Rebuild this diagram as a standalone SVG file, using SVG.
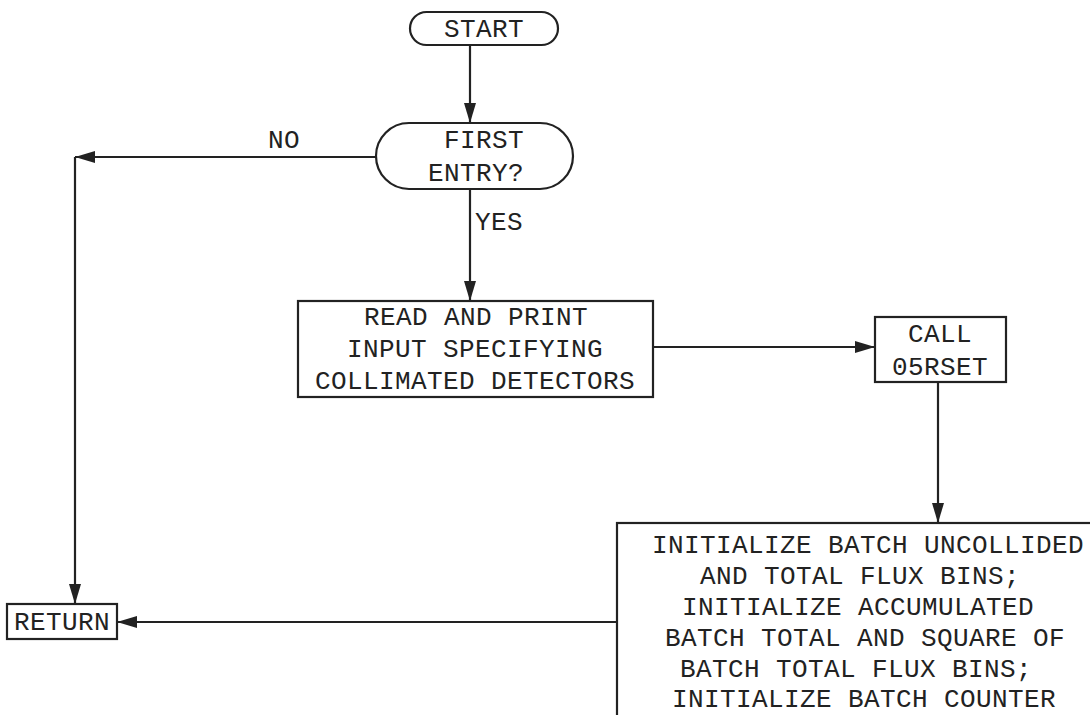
<svg xmlns="http://www.w3.org/2000/svg" width="1090" height="715" viewBox="0 0 1090 715">
<style>
.box{fill:#fff;stroke:#222;stroke-width:2.2}
.ln{fill:none;stroke:#222;stroke-width:2.2}
.t{font-family:"Liberation Mono","Courier New",monospace;font-size:26px;letter-spacing:0.4px;fill:#222}
.m{text-anchor:middle}
</style>
<defs>
<marker id="ah" markerUnits="userSpaceOnUse" markerWidth="22" markerHeight="14" refX="20" refY="7" orient="auto">
<path d="M0,1 L20,7 L0,13 Z" fill="#222"/>
</marker>
</defs>
<rect width="1090" height="715" fill="#fff"/>
<g id="connectors">
<path class="ln" d="M470,45 V123" marker-end="url(#ah)"/>
<path class="ln" d="M470,189 V301" marker-end="url(#ah)"/>
<path class="ln" d="M376,157 H75" marker-end="url(#ah)"/>
<path class="ln" d="M75,157 V604" marker-end="url(#ah)"/>
<path class="ln" d="M653,347 H875" marker-end="url(#ah)"/>
<path class="ln" d="M938,382 V523" marker-end="url(#ah)"/>
<path class="ln" d="M617,622 H117" marker-end="url(#ah)"/>
<text class="t" x="268" y="148">NO</text>
<text class="t" x="475" y="230">YES</text>
</g>
<g id="start">
<rect class="box" x="410" y="12" width="148" height="33" rx="16.5"/>
<text class="t m" x="484" y="37">START</text>
</g>
<g id="first-entry">
<rect class="box" x="376" y="123" width="197" height="66" rx="33"/>
<text class="t m" x="484" y="148">FIRST</text>
<text class="t m" x="476" y="181">ENTRY?</text>
</g>
<g id="read-print">
<rect class="box" x="298" y="301" width="355" height="96"/>
<text class="t m" x="476" y="325">READ AND PRINT</text>
<text class="t m" x="475" y="357">INPUT SPECIFYING</text>
<text class="t m" x="475" y="389">COLLIMATED DETECTORS</text>
</g>
<g id="call-05rset">
<rect class="box" x="875" y="317" width="131" height="65"/>
<text class="t m" x="940" y="342">CALL</text>
<text class="t m" x="940" y="375">05RSET</text>
</g>
<g id="initialize">
<rect class="box" x="617" y="523" width="490" height="220"/>
<text class="t" x="652" y="553">INITIALIZE BATCH UNCOLLIDED</text>
<text class="t" x="700" y="584">AND TOTAL FLUX BINS;</text>
<text class="t" x="682" y="615">INITIALIZE ACCUMULATED</text>
<text class="t" x="665" y="646">BATCH TOTAL AND SQUARE OF</text>
<text class="t" x="680" y="677">BATCH TOTAL FLUX BINS;</text>
<text class="t" x="672" y="707">INITIALIZE BATCH COUNTER</text>
</g>
<g id="return">
<rect class="box" x="7" y="604" width="110" height="35"/>
<text class="t m" x="62" y="630">RETURN</text>
</g>
</svg>
